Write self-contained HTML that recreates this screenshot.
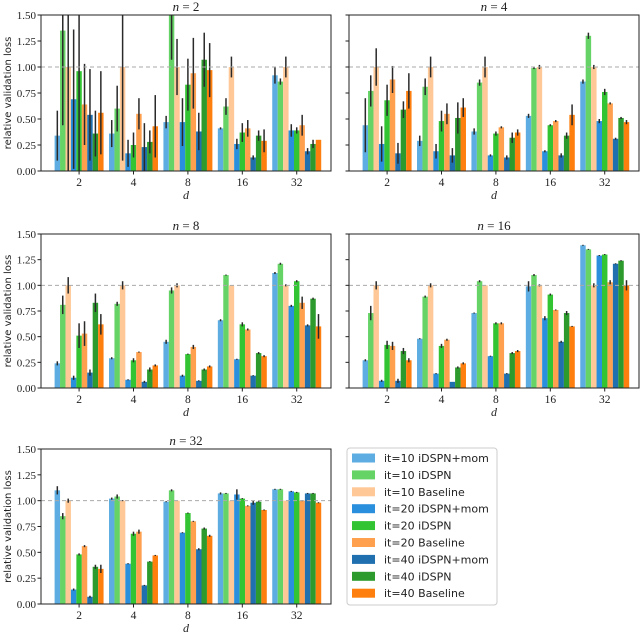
<!DOCTYPE html>
<html><head><meta charset="utf-8"><style>
body{margin:0;background:#fff;}
svg{display:block;}
</style></head><body>
<svg id="c" width="640" height="635" viewBox="0 0 640 635" xmlns="http://www.w3.org/2000/svg" font-family="DejaVu Sans, Liberation Sans, sans-serif"></svg>
<script>
const categories = ["2","4","8","16","32"];
const seriesNames = ["it=10 iDSPN+mom","it=10 iDSPN","it=10 Baseline","it=20 iDSPN+mom","it=20 iDSPN","it=20 Baseline","it=40 iDSPN+mom","it=40 iDSPN","it=40 Baseline"];
const seriesColors = ["#5dade2","#66d366","#ffc896","#2a8fdc","#33c433","#ffa04f","#2070b0","#2c9a2c","#ff7f0e"];
const yTicks = [0,0.25,0.5,0.75,1.0,1.25,1.5];
const yTickLabels = ["0.00","0.25","0.50","0.75","1.00","1.25","1.50"];
const panelTitles = ["2","4","8","16","32"];
// values[group][series]
const vals_n2 = [[0.34,1.35,1.0,0.69,0.96,0.64,0.54,0.36,0.56],[0.36,0.60,1.0,0.17,0.25,0.55,0.23,0.28,0.43],[0.47,1.50,1.0,0.47,0.83,0.94,0.38,1.07,0.97],[0.41,0.62,1.0,0.26,0.37,0.41,0.13,0.34,0.29],[0.92,0.86,1.0,0.39,0.39,0.44,0.19,0.26,0.30]];
const err_n2 = [[0.24,0.91,1.1,0.67,0.97,0.39,0.44,0.22,0.40],[0.13,0.22,0.9,0.13,0.12,0.15,0.23,0.11,0.30],[0.06,0.43,0.27,0.23,0.25,0.34,0.18,0.26,0.26],[0.01,0.08,0.10,0.05,0.09,0.08,0.02,0.05,0.11],[0.08,0.03,0.10,0.06,0.03,0.10,0.03,0.04,0.0]];
const vals_n4 = [[0.44,0.77,1.0,0.26,0.68,0.88,0.17,0.59,0.77],[0.29,0.81,1.0,0.19,0.48,0.55,0.15,0.51,0.61],[0.38,0.85,1.0,0.15,0.36,0.42,0.13,0.32,0.37],[0.53,0.99,1.0,0.19,0.44,0.48,0.15,0.34,0.54],[0.86,1.30,1.0,0.48,0.76,0.65,0.31,0.51,0.47]];
const err_n4 = [[0.26,0.15,0.18,0.17,0.15,0.13,0.10,0.08,0.17],[0.05,0.08,0.10,0.07,0.10,0.10,0.07,0.15,0.09],[0.03,0.03,0.10,0.01,0.02,0.01,0.02,0.05,0.03],[0.02,0.01,0.02,0.01,0.01,0.01,0.02,0.03,0.10],[0.02,0.03,0.02,0.02,0.03,0.01,0.01,0.01,0.02]];
const vals_n8 = [[0.24,0.81,1.0,0.10,0.51,0.53,0.15,0.83,0.62],[0.29,0.82,1.0,0.08,0.27,0.35,0.06,0.18,0.22],[0.45,0.95,1.0,0.12,0.33,0.40,0.07,0.18,0.21],[0.66,1.10,1.0,0.28,0.62,0.57,0.12,0.34,0.31],[1.12,1.21,1.0,0.80,1.04,0.83,0.61,0.87,0.60]];
const err_n8 = [[0.02,0.09,0.08,0.02,0.12,0.12,0.03,0.09,0.10],[0.01,0.02,0.04,0.005,0.02,0.005,0.01,0.02,0.01],[0.02,0.03,0.02,0.01,0.005,0.02,0.005,0.01,0.01],[0.01,0.005,0,0.005,0.02,0.01,0.005,0.01,0.01],[0.01,0.01,0.01,0.01,0.01,0.06,0.01,0.01,0.12]];
const vals_n16 = [[0.27,0.73,1.0,0.07,0.42,0.41,0.07,0.36,0.27],[0.48,0.89,1.0,0.14,0.41,0.47,0.06,0.20,0.24],[0.73,1.04,1.0,0.31,0.63,0.63,0.14,0.34,0.36],[0.99,1.10,1.0,0.68,0.91,0.76,0.45,0.73,0.60],[1.39,1.35,1.0,1.29,1.30,1.03,1.21,1.24,1.0]];
const err_n16 = [[0.01,0.07,0.04,0.01,0.04,0.04,0.02,0.03,0.02],[0.005,0.01,0.02,0.005,0.02,0.01,0,0.01,0.01],[0.005,0.01,0,0.005,0.01,0.01,0.005,0.01,0.01],[0.05,0.01,0.01,0.02,0.01,0.005,0.01,0.02,0.005],[0.005,0.005,0.02,0.005,0.005,0.02,0.005,0.005,0.05]];
const vals_n32 = [[1.10,0.85,1.0,0.14,0.48,0.56,0.07,0.36,0.34],[1.02,1.04,1.0,0.39,0.68,0.70,0.18,0.41,0.47],[0.99,1.10,1.0,0.69,0.88,0.80,0.53,0.73,0.66],[1.07,1.07,1.0,1.06,1.02,0.95,0.98,0.99,0.91],[1.11,1.11,1.0,1.09,1.08,1.0,1.07,1.07,0.98]];
const err_n32 = [[0.04,0.03,0.02,0.01,0.01,0.01,0.01,0.02,0.04],[0.01,0.02,0.005,0.005,0.02,0.02,0.005,0.005,0.005],[0.005,0.01,0,0.005,0.005,0.005,0.01,0.01,0.01],[0.01,0.005,0,0.05,0.005,0.005,0.02,0.005,0.005],[0.005,0.005,0,0.005,0.005,0.005,0.005,0.005,0.005]];

const panelVals = [vals_n2,vals_n4,vals_n8,vals_n16,vals_n32];
const panelErrs = [err_n2,err_n4,err_n8,err_n16,err_n32];
const boxes = [[41,15,331,171,true],[349,15,639,171,false],[41,234,331,388,true],[349,234,639,388,false],[41,449,331,604,true]];
const NS="http://www.w3.org/2000/svg";
const svg=document.getElementById('c');
function mk(t,a,p){const e=document.createElementNS(NS,t);for(const k in a)e.setAttribute(k,a[k]);(p||svg).appendChild(e);return e;}
const SERIF='font-family:"Liberation Serif",serif';
const X0=-0.7,X1=4.63,YMAX=1.5;
boxes.forEach((b,pi)=>{
  const [l,t,r,bt,showY]=b;
  const g=mk('g',{});
  
  
  const xs=v=>l+(v-X0)/(X1-X0)*(r-l);
  const ys=v=>bt-v/YMAX*(bt-t);
  const cid='clip'+pi;
  const cp=mk('clipPath',{id:cid},g);mk('rect',{x:l,y:t,width:r-l,height:bt-t},cp);
  const bars=mk('g',{'clip-path':'url(#'+cid+')'},g);
  const unit=(r-l)/(X1-X0), w=0.1*unit;
  panelVals[pi].forEach((grp,gi)=>{
    grp.forEach((v,si)=>{
      const cx=xs(gi+(si-4)*0.1);
      const rect=mk('rect',{x:cx-w/2,y:ys(v),width:w,height:ys(0)-ys(v),fill:seriesColors[si]},bars);
      
      
      const e=panelErrs[pi][gi][si];
      if(e>0){const ln=mk('line',{x1:cx,x2:cx,y1:ys(v-e),y2:ys(v+e),stroke:'#2a2a2a',"stroke-width":1.5},bars);
        
        }
    });
  });
  const ref=mk('line',{x1:l,x2:r,y1:ys(1),y2:ys(1),stroke:'#aaa','stroke-width':1,'stroke-dasharray':'4,3'},g);
  
  
  const fr=mk('rect',{x:l,y:t,width:r-l,height:bt-t,fill:'none',stroke:'#222','stroke-width':1},g);
  
  
  yTicks.forEach((v,i)=>{
    mk('line',{x1:l-3.5,x2:l,y1:ys(v),y2:ys(v),stroke:'#222'},g);
    if(showY){const tx=mk('text',{x:l-5,y:ys(v)+4,'text-anchor':'end','font-size':11,fill:'#222',style:SERIF},g);tx.textContent=yTickLabels[i];
      
      }
  });
  categories.forEach((c,i)=>{
    mk('line',{x1:xs(i),x2:xs(i),y1:bt,y2:bt+3.5,stroke:'#222'},g);
    const tx=mk('text',{x:xs(i),y:bt+15,'text-anchor':'middle','font-size':11.5,fill:'#222',style:SERIF},g);tx.textContent=c;
    
    
  });
  const xl=mk('text',{x:(l+r)/2,y:bt+28,'text-anchor':'middle','font-size':12,'font-style':'italic',style:SERIF,fill:'#222'},g);xl.textContent='d';
  
  
  const ti=mk('text',{x:(l+r)/2,y:t-4,'text-anchor':'middle','font-size':13,style:SERIF,fill:'#222'},g);
  ti.innerHTML='<tspan font-style="italic">n</tspan> = '+panelTitles[pi];
  
  
  if(showY){const yl=mk('text',{x:0,y:0,'text-anchor':'middle','font-size':10,fill:'#222',transform:'translate(11,'+((t+bt)/2)+') rotate(-90)'},g);yl.textContent='relative validation loss';
    
    }
});
// legend
const lg=mk('g',{});


mk('rect',{x:347,y:448,width:150,height:157,rx:3,fill:'#fff',stroke:'#ccc'},lg);
seriesNames.forEach((n,i)=>{
  const y=458+i*16.9;
  const en=mk('g',{},lg);
  
  
  mk('rect',{x:352,y:y-4.5,width:23,height:9,fill:seriesColors[i]},en);
  const tx=mk('text',{x:384,y:y+4,'font-size':11,fill:'#222'},en);tx.textContent=n;
});
</script>
</body></html>
